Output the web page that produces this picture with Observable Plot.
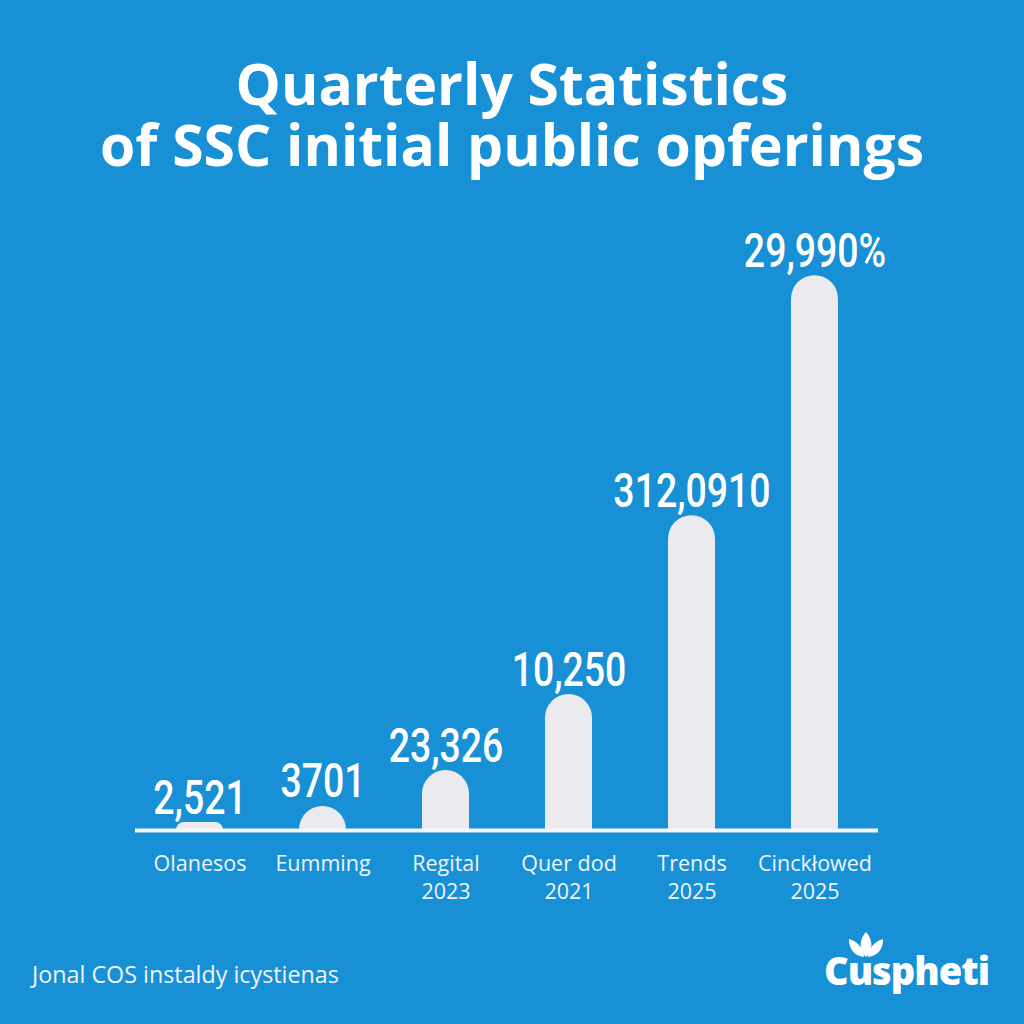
<!DOCTYPE html>
<html>
<head>
<meta charset="utf-8">
<script src="https://cdn.jsdelivr.net/npm/d3@7/dist/d3.min.js"></script>
<script src="https://cdn.jsdelivr.net/npm/@observablehq/plot@0.6/dist/plot.umd.min.js"></script>
<style>
  html, body { margin: 0; padding: 0; }
  body { width: 1024px; height: 1024px; background: #1890d5; position: relative; overflow: hidden; font-family: "Open Sans", sans-serif; color: #fff; }
  .title { position: absolute; left: 0; width: 1024px; text-align: center; font-weight: 700; font-size: 57px; line-height: 58px; white-space: nowrap; }
  #t1 { top: 54px; }
  #t2 { top: 115px; }
  #chart { position: absolute; top: 200px; left: 0; }
  #footer { position: absolute; left: 32px; top: 958px; font-size: 23.3px; color: #eef4fa; white-space: nowrap; }
  #logo { position: absolute; left: 824px; top: 928px; width: 170px; height: 70px; }
  #logo .word { position: absolute; left: 0; top: 16px; font-family: "Open Sans", sans-serif; font-weight: 800; font-size: 38px; letter-spacing: -1px; }
  #logo svg { position: absolute; left: 23px; top: 3px; }
</style>
</head>
<body>
<div class="title" id="t1">Quarterly Statistics</div>
<div class="title" id="t2">of SSC initial public opferings</div>
<div id="chart"></div>
<div id="footer">Jonal COS instaldy icystienas</div>
<div id="logo">
  <svg width="38" height="27" viewBox="0 0 40 30">
    <path d="M20 29 C 12 21, 12 10, 20 1 C 28 10, 28 21, 20 29 Z" fill="#fff"/>
    <path d="M18 29 C 7 28, 1 20, 1 9 C 10 11, 16 18, 18 29 Z" fill="#fff"/>
    <path d="M22 29 C 33 28, 39 20, 39 9 C 30 11, 24 18, 22 29 Z" fill="#fff"/>
  </svg>
  <div class="word">Cuspheti</div>
</div>
<script>
const categories = ["Olanesos", "Eumming", "Regital\n2023", "Quer dod\n2021", "Trends\n2025", "Cinckłowed\n2025"];
const values = [430, 1300, 3240, 7350, 17020, 29990];
const valueLabels = ["2,521", "3701", "23,326", "10,250", "312,0910", "29,990%"];

const data = categories.map((c, i) => ({cat: c, value: values[i], label: valueLabels[i]}));

const chart = Plot.plot({
  width: 1024,
  height: 710,
  marginLeft: 135,
  marginRight: 146,
  marginTop: 0,
  marginBottom: 80,
  style: {background: "transparent", color: "#fff", overflow: "visible"},
  x: {domain: categories, paddingInner: 0.62, paddingOuter: 0.31, axis: null},
  y: {domain: [0, 30000], range: [630, 75], axis: null},
  marks: [
    Plot.barY(data, {x: "cat", y: "value", fill: "#ebebef", ry1: 23.5}),
    Plot.ruleY([0], {stroke: "#f4f6f8", strokeWidth: 4}),
    Plot.text(data, {x: "cat", y: "value", text: "label", lineAnchor: "bottom", dy: -9, fill: "#fff", fontSize: 48, fontFamily: "Roboto, sans-serif", fontWeight: 500, className: "vlabel"}),
    Plot.text(data, {x: "cat", y: 0, text: "cat", lineAnchor: "top", dy: 20, fill: "#eef4fa", fontSize: 21.5, lineHeight: 1.32, fontFamily: "'Open Sans', sans-serif"})
  ]
});
document.getElementById("chart").appendChild(chart);
// horizontally condense the value labels around their anchor
chart.querySelectorAll(".vlabel text").forEach(t => {
  const tr = t.getAttribute("transform") || "";
  t.setAttribute("transform", tr + " scale(0.78,1)");
});
</script>
</body>
</html>
